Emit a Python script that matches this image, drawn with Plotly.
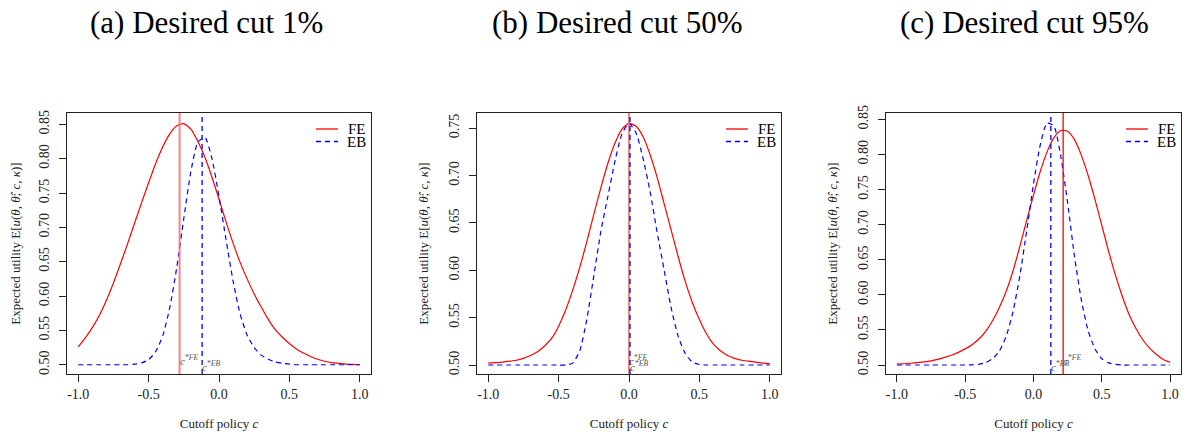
import plotly.graph_objects as go
from plotly.subplots import make_subplots

# cutoff grid (shared by all panels)
cutoff = [-1.0, -0.95, -0.9, -0.85, -0.8, -0.75, -0.7, -0.65, -0.6, -0.55, -0.5,
          -0.45, -0.4, -0.35, -0.3, -0.25, -0.2, -0.15, -0.1, -0.05, 0.0,
          0.05, 0.1, 0.15, 0.2, 0.25, 0.3, 0.35, 0.4, 0.45, 0.5,
          0.55, 0.6, 0.65, 0.7, 0.75, 0.8, 0.85, 0.9, 0.95, 1.0]

# (a) desired cut 1%
fe_a = [0.526, 0.539, 0.554, 0.572, 0.594, 0.619, 0.647, 0.676, 0.706, 0.736, 0.765,
        0.793, 0.817, 0.836, 0.848, 0.851, 0.843, 0.825, 0.802, 0.773, 0.741,
        0.708, 0.677, 0.649, 0.625, 0.603, 0.584, 0.566, 0.551, 0.540, 0.531,
        0.523, 0.517, 0.512, 0.508, 0.505, 0.503, 0.502, 0.501, 0.5005, 0.5002]
eb_a = [0.5, 0.5, 0.5, 0.5, 0.5, 0.5, 0.5, 0.5, 0.5008, 0.5026, 0.5075,
        0.519, 0.542, 0.583, 0.642, 0.713, 0.781, 0.824, 0.831, 0.800, 0.745,
        0.682, 0.622, 0.574, 0.543, 0.525, 0.514, 0.508, 0.504, 0.502, 0.501,
        0.5, 0.5, 0.5, 0.5, 0.5, 0.5, 0.5, 0.5, 0.5, 0.5]

# (b) desired cut 50%
fe_b = [0.502, 0.5025, 0.503, 0.504, 0.505, 0.507, 0.510, 0.514, 0.520, 0.528, 0.541,
        0.558, 0.579, 0.603, 0.630, 0.659, 0.687, 0.713, 0.734, 0.749, 0.755,
        0.752, 0.741, 0.722, 0.698, 0.670, 0.642, 0.614, 0.588, 0.566, 0.548,
        0.533, 0.522, 0.515, 0.510, 0.507, 0.505, 0.504, 0.503, 0.502, 0.5015]
eb_b = [0.5, 0.5, 0.5, 0.5, 0.5, 0.5, 0.5, 0.5, 0.5, 0.5, 0.5,
        0.5, 0.502, 0.515, 0.548, 0.594, 0.641, 0.678, 0.715, 0.744, 0.755,
        0.745, 0.718, 0.683, 0.640, 0.600, 0.560, 0.530, 0.512, 0.503, 0.5005,
        0.5, 0.5, 0.5, 0.5, 0.5, 0.5, 0.5, 0.5, 0.5, 0.5]

# (c) desired cut 95%
fe_c = [0.5012, 0.5018, 0.5025, 0.5035, 0.5045, 0.506, 0.508, 0.511, 0.514, 0.518, 0.523,
        0.529, 0.537, 0.548, 0.563, 0.582, 0.605, 0.634, 0.669, 0.706, 0.742,
        0.776, 0.804, 0.824, 0.834, 0.833, 0.821, 0.799, 0.770, 0.736, 0.699,
        0.662, 0.628, 0.598, 0.572, 0.552, 0.536, 0.524, 0.515, 0.508, 0.504]
eb_c = [0.5, 0.5, 0.5, 0.5, 0.5, 0.5, 0.5, 0.5, 0.5, 0.5, 0.5,
        0.5003, 0.501, 0.5035, 0.509, 0.520, 0.541, 0.576, 0.627, 0.691, 0.758,
        0.814, 0.845, 0.840, 0.797, 0.731, 0.655, 0.593, 0.549, 0.523, 0.509,
        0.503, 0.501, 0.5, 0.5, 0.5, 0.5, 0.5, 0.5, 0.5, 0.5]

panel_titles = ["(a) Desired cut 1%", "(b) Desired cut 50%", "(c) Desired cut 95%"]
series_names = ["FE", "EB"]
cstar_fe = [-0.28, 0.0, 0.217]
cstar_eb = [-0.12, 0.007, 0.127]

xtick_vals = [-1.0, -0.5, 0.0, 0.5, 1.0]
xtick_text = ["-1.0", "-0.5", "0.0", "0.5", "1.0"]
ytick_vals = [0.50, 0.55, 0.60, 0.65, 0.70, 0.75, 0.80, 0.85]
ytick_text = ["0.50", "0.55", "0.60", "0.65", "0.70", "0.75", "0.80", "0.85"]

fe_series = [fe_a, fe_b, fe_c]
eb_series = [eb_a, eb_b, eb_c]

FONT = "Liberation Serif"
INK = "#222222"
W, H = 1196, 437
PAGE_PAD = 8  # default body margin of the html page


def fx(px):
    return (px - PAGE_PAD) / W


def fy(py):
    return 1 - (py - PAGE_PAD) / H


x_px = [(67, 371), (477, 781), (886, 1181)]
y_px = (113, 374)
x_domains = [(fx(a), fx(b)) for a, b in x_px]
y_domain = (fy(y_px[1]), fy(y_px[0]))
y_ranges = [(0.4865, 0.8665), (0.4905, 0.766), (0.4872, 0.859)]
title_px = [206, 617, 1024]
vline_fe_col = ["rgba(240,110,110,0.85)", "rgba(240,110,110,0.85)", "#ff0000"]
line_styles = [dict(color="#ff0000", width=1.2), dict(color="#0000ff", width=1.2, dash="5px,4px")]

fig = make_subplots(rows=1, cols=3)

for i in range(3):
    for name, ys, st in zip(series_names, [fe_series[i], eb_series[i]], line_styles):
        fig.add_trace(go.Scatter(x=cutoff, y=ys, mode="lines", name=name,
                                 line=dict(shape="spline", smoothing=0.6, **st),
                                 showlegend=False), row=1, col=i + 1)

    fig.add_vline(x=cstar_fe[i], line=dict(color=vline_fe_col[i], width=2 if i < 2 else 1.3),
                  row=1, col=i + 1)
    fig.add_vline(x=cstar_eb[i], line=dict(color="#0000ff", width=1.3, dash="5px,4px"),
                  row=1, col=i + 1)

    fig.add_annotation(x=cstar_fe[i], y=0.5, text="<i>c</i><sup>*<i>FE</i></sup>",
                       showarrow=False, xanchor="left", yanchor="middle", yshift=5, xshift=-2,
                       font=dict(family=FONT, size=11, color="#555555"), row=1, col=i + 1)
    fig.add_annotation(x=cstar_eb[i], y=0.5, text="<i>c</i><sup>*<i>EB</i></sup>",
                       showarrow=False, xanchor="left", yanchor="middle", yshift=-1, xshift=-2,
                       font=dict(family=FONT, size=11, color="#555555"), row=1, col=i + 1)

    fig.add_annotation(x=fx(title_px[i]), y=fy(22), xref="paper", yref="paper", text=panel_titles[i],
                       showarrow=False, xanchor="center", yanchor="middle",
                       font=dict(family=FONT, size=31, color="#000000"))

    # legend drawn in the top-right corner of each panel
    right = fx(x_px[i][1] - 3)
    for k, (name, st) in enumerate(zip(series_names, line_styles)):
        yy = fy(129 + 12.5 * k)
        fig.add_shape(type="line", xref="paper", yref="paper",
                      x0=right - 52 / W, x1=right - 30 / W, y0=yy, y1=yy,
                      line=dict(color=st["color"], width=1.3, dash=st.get("dash")))
        fig.add_annotation(x=right, y=yy, xref="paper", yref="paper", text=name,
                           showarrow=False, xanchor="right", yanchor="middle",
                           font=dict(family=FONT, size=15, color="#000000"))

    fig.update_xaxes(domain=list(x_domains[i]), range=[-1.08, 1.08],
                     tickvals=xtick_vals, ticktext=xtick_text,
                     title=dict(text="Cutoff policy <i>c</i>", standoff=18,
                                font=dict(family=FONT, size=13, color=INK)),
                     row=1, col=i + 1)
    fig.update_yaxes(domain=list(y_domain), range=list(y_ranges[i]),
                     tickvals=ytick_vals, ticktext=ytick_text, tickangle=-90,
                     ticklabelstandoff=4,
                     title=dict(text="Expected utility E[<i>u</i>(<i>θ</i>, <i>θ̂</i>; <i>c</i>, <i>κ</i>)]",
                                standoff=15, font=dict(family=FONT, size=13, color=INK)),
                     row=1, col=i + 1)

fig.update_xaxes(showline=True, mirror=True, linecolor=INK, linewidth=1, ticks="outside",
                 ticklen=7, tickcolor=INK, showgrid=False, zeroline=False, automargin=False,
                 tickfont=dict(family=FONT, size=14, color=INK))
fig.update_yaxes(showline=True, mirror=True, linecolor=INK, linewidth=1, ticks="outside",
                 ticklen=7, tickcolor=INK, showgrid=False, zeroline=False, automargin=False,
                 tickfont=dict(family=FONT, size=14, color=INK))

fig.update_layout(width=W, height=H, margin=dict(l=0, r=0, t=0, b=0),
                  plot_bgcolor="white", paper_bgcolor="white", showlegend=False,
                  font=dict(family=FONT, color=INK))

fig.write_html("out.html")
